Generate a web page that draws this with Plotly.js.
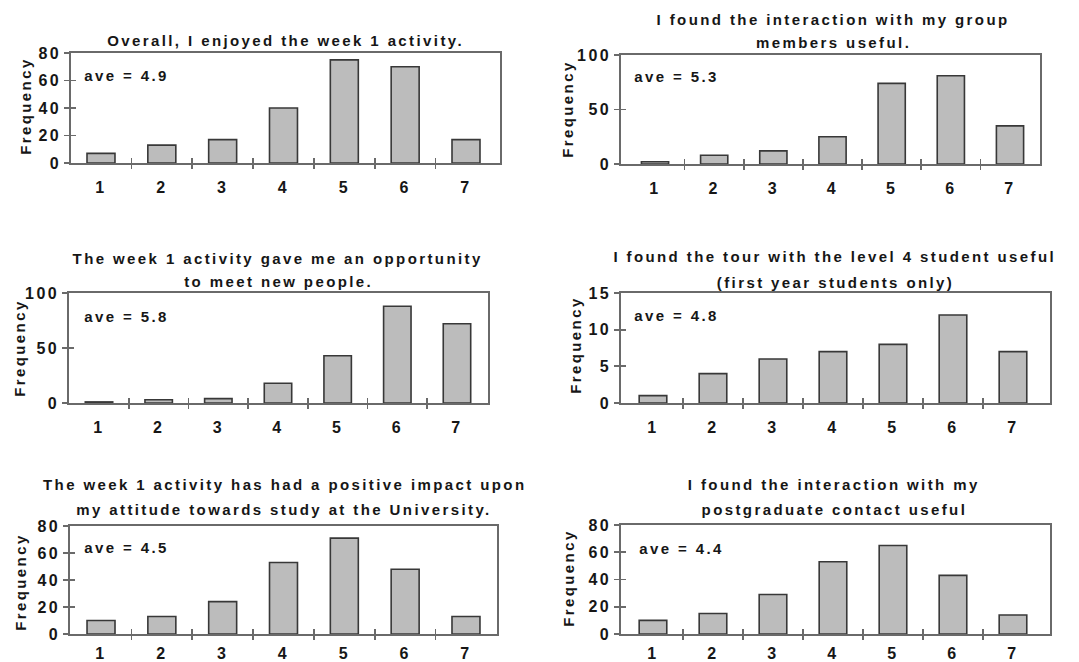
<!DOCTYPE html>
<html>
<head>
<meta charset="utf-8">
<script src="https://cdn.plot.ly/plotly-3.0.1.min.js"></script>
<style>
html, body { margin: 0; padding: 0; background: #fff; }
#chart { width: 1079px; height: 662px; }
#chart text { letter-spacing: 2.4px; }
</style>
</head>
<body>
<div id="chart"></div>
<script>
// ---------------- data ----------------
const categories = [1, 2, 3, 4, 5, 6, 7];
const tickLabels = ['1', '2', '3', '4', '5', '6', '7'];

const enjoyedValues      = [7, 13, 17, 40, 75, 70, 17];
const groupValues        = [2, 8, 12, 25, 74, 81, 35];
const meetPeopleValues   = [1, 3, 4, 18, 43, 88, 72];
const tourValues         = [1, 4, 6, 7, 8, 12, 7];
const attitudeValues     = [10, 13, 24, 53, 71, 48, 13];
const postgradValues     = [10, 15, 29, 53, 65, 43, 14];

const averages = ['4.9', '5.3', '5.8', '4.8', '4.5', '4.4'];

const titleLines = [
  ['Overall, I enjoyed the week 1 activity.'],
  ['I found the interaction with my group', 'members useful.'],
  ['The week 1 activity gave me an opportunity', 'to meet new people.'],
  ['I found the tour with the level 4 student useful', '(first year students only)'],
  ['The week 1 activity has had a positive impact upon', 'my attitude towards study at the University.'],
  ['I found the interaction with my', 'postgraduate contact useful']
];

const yMax  = [80, 100, 100, 15, 80, 80];
const yStep = [20, 50, 50, 5, 20, 20];
const yAxisLabel = 'Frequency';

const seriesValues = [enjoyedValues, groupValues, meetPeopleValues, tourValues, attitudeValues, postgradValues];

// ---------------- layout geometry (pixels) ----------------
const W = 1079, H = 662;
// [left, right, top, bottom] of each plot frame
const boxes = [
  [71, 500, 53, 163],
  [621, 1040, 55, 164],
  [69, 488, 293, 403],
  [621, 1050, 293, 403],
  [70, 497, 526, 634],
  [621, 1050, 525, 634]
];
const xRanges = [
  [0.507, 7.559],
  [0.425, 7.507],
  [0.497, 7.52],
  [0.467, 7.617],
  [0.49, 7.51],
  [0.467, 7.617]
];
const labelStandoff = [9, 9, 9, 9, 4, 4];
// title line centres [x, [y...]]
const titlePos = [
  [285, [41]],
  [833, [20, 43]],
  [278, [258, 281]],
  [835, [257, 282]],
  [284, [485, 509]],
  [834, [485, 509]]
];
const freqPos = [[25, 106], [567, 109], [20, 348], [575, 345], [20, 582], [568, 578]];
const avePos  = [[93, 75], [643, 76], [93, 316], [643, 315], [93, 547], [648, 548]];

const px = v => v / W;
const py = v => 1 - v / H;

const textColor = '#161616';
const lineColor = '#6a6a6a';
const fontFamily = '"Liberation Sans", Arial, Helvetica, sans-serif';

const traces = [];
const layout = {
  width: W, height: H,
  margin: {l: 0, r: 0, t: 0, b: 0},
  paper_bgcolor: '#ffffff',
  plot_bgcolor: 'rgba(0,0,0,0)',
  showlegend: false,
  bargap: 0,
  font: {family: fontFamily, color: textColor, size: 15, weight: 'bold'},
  annotations: []
};

const between = categories.slice(0, -1).map(c => c + 0.5);

for (let i = 0; i < 6; i++) {
  const n = i + 1;
  const sx = n === 1 ? '' : String(n);
  const xo = String(n + 6), xi = String(n + 12), yi = String(n + 6);
  const [l, r, t, b] = boxes[i];
  const xDom = [px(l), px(r)];
  const yDom = [py(b), py(t)];

  traces.push({
    type: 'bar',
    x: categories,
    y: seriesValues[i],
    width: 0.46,
    xaxis: 'x' + sx, yaxis: 'y' + sx,
    marker: {color: '#bcbcbc', line: {color: '#383838', width: 1.6}},
    hoverinfo: 'x+y'
  });
  traces.push({type: 'scatter', x: [], y: [], xaxis: 'x' + xo, yaxis: 'y' + sx, showlegend: false});
  traces.push({type: 'scatter', x: [], y: [], xaxis: 'x' + xi, yaxis: 'y' + sx, showlegend: false});
  traces.push({type: 'scatter', x: [], y: [], xaxis: 'x' + sx, yaxis: 'y' + yi, showlegend: false});

  const yTicks = [];
  for (let v = 0; v <= yMax[i]; v += yStep[i]) yTicks.push(v);

  layout['xaxis' + sx] = {
    domain: xDom, anchor: 'y' + sx, range: xRanges[i],
    tickmode: 'array', tickvals: categories, ticktext: tickLabels,
    ticks: '', ticklabelstandoff: labelStandoff[i],
    showline: true, mirror: true, linecolor: lineColor, linewidth: 1.8,
    showgrid: false, zeroline: false, fixedrange: true,
    tickfont: {size: 16, family: fontFamily, color: textColor, weight: 'bold'}
  };
  layout['xaxis' + xo] = {
    domain: xDom, anchor: 'y' + sx, overlaying: 'x' + sx, range: xRanges[i],
    tickmode: 'array', tickvals: between, ticks: 'outside', ticklen: 5,
    tickwidth: 1.8, tickcolor: lineColor, showticklabels: false,
    showline: false, showgrid: false, zeroline: false, fixedrange: true
  };
  layout['xaxis' + xi] = {
    domain: xDom, anchor: 'y' + sx, overlaying: 'x' + sx, range: xRanges[i],
    tickmode: 'array', tickvals: between, ticks: 'inside', ticklen: 5,
    tickwidth: 1.8, tickcolor: lineColor, showticklabels: false,
    showline: false, showgrid: false, zeroline: false, fixedrange: true
  };
  layout['yaxis' + sx] = {
    domain: yDom, anchor: 'x' + sx, range: [0, yMax[i]],
    tickmode: 'array', tickvals: yTicks, ticks: 'outside', ticklen: 5,
    tickwidth: 1.8, tickcolor: lineColor,
    showline: true, mirror: true, linecolor: lineColor, linewidth: 1.8,
    showgrid: false, zeroline: false, fixedrange: true,
    tickfont: {size: 16, family: fontFamily, color: textColor, weight: 'bold'}
  };
  layout['yaxis' + yi] = {
    domain: yDom, anchor: 'x' + sx, overlaying: 'y' + sx, range: [0, yMax[i]],
    tickmode: 'array', tickvals: yTicks, ticks: 'inside', ticklen: 5,
    tickwidth: 1.8, tickcolor: lineColor, showticklabels: false,
    showline: false, showgrid: false, zeroline: false, fixedrange: true
  };

  titleLines[i].forEach((line, k) => {
    layout.annotations.push({
      xref: 'paper', yref: 'paper',
      x: px(titlePos[i][0]), y: py(titlePos[i][1][k]),
      xanchor: 'center', yanchor: 'middle',
      text: line, showarrow: false,
      font: {size: 15, family: fontFamily, color: textColor, weight: 'bold'}
    });
  });
  layout.annotations.push({
    xref: 'paper', yref: 'paper',
    x: px(freqPos[i][0]), y: py(freqPos[i][1]),
    xanchor: 'center', yanchor: 'middle', textangle: -90,
    text: yAxisLabel, showarrow: false,
    font: {size: 15, family: fontFamily, color: textColor, weight: 'bold'}
  });
  layout.annotations.push({
    xref: 'paper', yref: 'paper',
    x: px(avePos[i][0]), y: py(avePos[i][1]),
    xanchor: 'left', yanchor: 'middle',
    text: 'ave = ' + averages[i], showarrow: false,
    font: {size: 15, family: fontFamily, color: textColor, weight: 'bold'}
  });
}

Plotly.newPlot('chart', traces, layout, {displayModeBar: false, staticPlot: true});
</script>
</body>
</html>
